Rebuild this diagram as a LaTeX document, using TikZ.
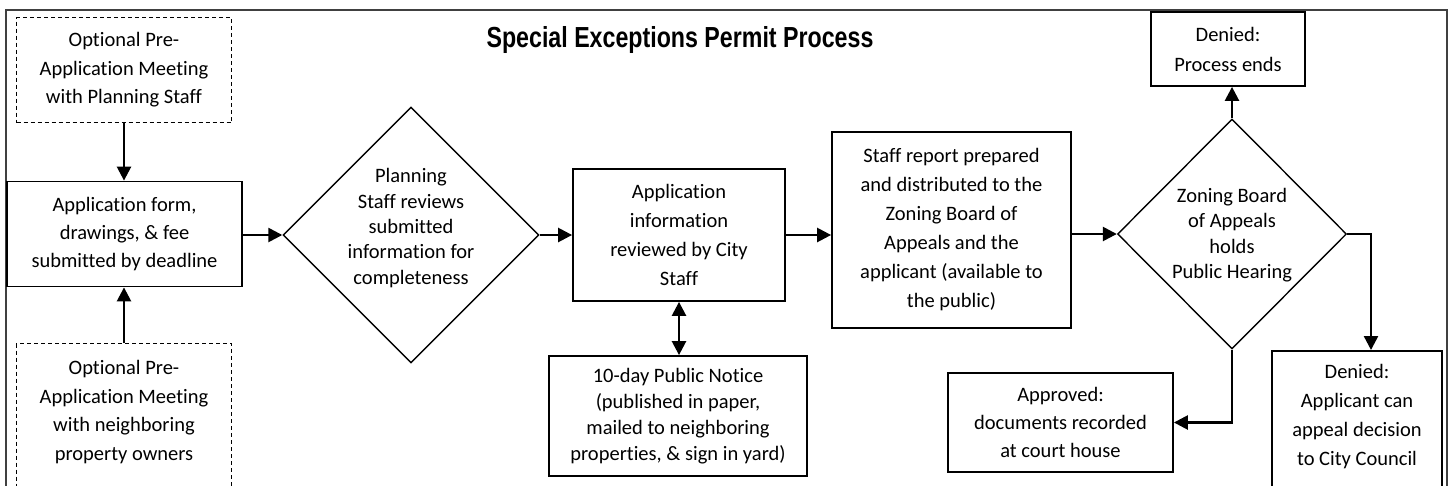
\documentclass[tikz,border=0pt]{standalone}
\usepackage{fontspec}
\setmainfont{Carlito}[Ligatures=NoCommon]
\newfontfamily\titlefont[FakeStretch=0.8]{Liberation Sans}
\usetikzlibrary{shapes.geometric,arrows.meta}
\begin{document}
\begin{tikzpicture}[x=1pt,y=-1pt,
 box/.style={draw, line width=1.8pt, align=center, inner sep=0, font=\fontsize{20.5}{28}\selectfont},
 dbox/.style={draw, dash pattern=on 4pt off 3pt, line width=1pt, align=center, inner sep=0, font=\fontsize{20.5}{28.5}\selectfont},
 diam/.style={draw, diamond, line width=1.4pt, inner sep=0},
 txt/.style={align=center, inner sep=0, font=\fontsize{20.5}{28}\selectfont},
 dtxt/.style={align=center, inner sep=0, font=\fontsize{20.5}{25.3}\selectfont},
 tip/.tip={Triangle[length=14pt,width=14pt]},
 arr/.style={line width=2.5pt, -tip},
 darr/.style={line width=2.5pt, tip-tip},
]
\useasboundingbox (0,0) rectangle (1450,485);
\fill[white] (0,0) rectangle (1450,485);
\clip (0,0) rectangle (1450,485);
% frame
\draw[black!75, line width=1.3pt] (6,520) -- (6,10) -- (1447,10) -- (1447,520);
% title
\node[font=\titlefont\bfseries\fontsize{29}{30}\selectfont, anchor=base, inner sep=0] (title) at (680,47) {Special Exceptions Permit Process};
% left column
\node[dbox, minimum width=215, minimum height=105] (pre1) at (124,70) {Optional Pre-\\Application Meeting\\with Planning Staff};
\node[box, minimum width=235, minimum height=105] (app) at (124.5,234) {Application form,\\drawings, \& fee\\submitted by deadline};
\node[dbox, minimum width=215, minimum height=200, anchor=north] (pre2) at (124,343) {};
\node[txt, font=\fontsize{20.5}{28.5}\selectfont] (pre2t) at (124,412) {Optional Pre-\\Application Meeting\\with neighboring\\property owners};
% first decision
\node[diam, minimum width=256, minimum height=256] (d1) at (411,235) {};
\node[dtxt] (d1t) at (411,228) {Planning\\Staff reviews\\submitted\\information for\\completeness};
% city staff review
\node[box, minimum width=212, minimum height=132, font=\fontsize{20.5}{29}\selectfont] (b3) at (679,235) {Application\\information\\reviewed by City\\Staff};
\node[box, minimum width=258, minimum height=120, font=\fontsize{20.5}{26}\selectfont] (b4) at (678,416) {10-day Public Notice\\(published in paper,\\mailed to neighboring\\properties, \& sign in yard)};
% staff report
\node[box, minimum width=239, minimum height=196, font=\fontsize{20.5}{29}\selectfont] (b5) at (951.5,230) {Staff report prepared\\and distributed to the\\Zoning Board of\\Appeals and the\\applicant (available to\\the public)};
% second decision
\node[diam, minimum width=229, minimum height=230] (d2) at (1232,234) {};
\node[dtxt] (d2t) at (1232,235) {Zoning Board\\of Appeals\\holds\\Public Hearing};
% outcomes
\node[box, minimum width=154, minimum height=74, font=\fontsize{20.5}{30}\selectfont] (dtop) at (1228,49) {Denied:\\Process ends};
\node[box, minimum width=225, minimum height=99] (appr) at (1060.5,422.5) {Approved:\\documents recorded\\at court house};
\node[box, minimum width=170, minimum height=200, anchor=north] (d3) at (1357,350) {};
\node[txt, font=\fontsize{20.5}{29}\selectfont] (d3t) at (1357,416.5) {Denied:\\Applicant can\\appeal decision\\to City Council};
% connectors
\draw[arr] (pre1.south) -- (pre1.south |- app.north);
\draw[arr] (pre2.north) -- (pre2.north |- app.south);
\draw[arr] (app.east |- d1.west) -- (d1.west);
\draw[arr] (d1.east) -- (b3.west);
\draw[darr] (b3.south) -- (b3.south |- b4.north);
\draw[arr] (b3.east) -- (b3.east -| b5.west);
\draw[arr] (d2.west -| b5.east) -- (d2.west);
\draw[arr] (d2.north) -- (d2.north |- dtop.south);
\coordinate (c1) at (1371,234);
\draw[arr] (d2.east) -- (c1) -- (c1 |- d3.north);
\draw[arr] (d2.south) |- (appr.east);
\end{tikzpicture}
\end{document}
